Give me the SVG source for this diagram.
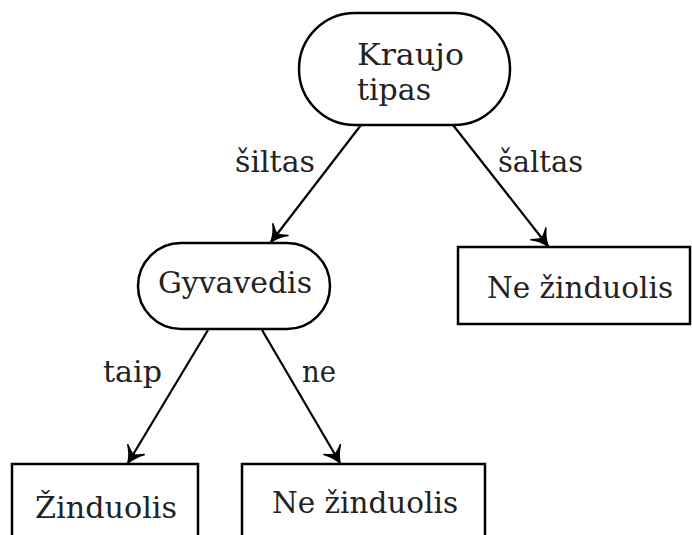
<svg xmlns="http://www.w3.org/2000/svg" width="692" height="535" viewBox="0 0 692 535">
<style>
  .node { fill: #ffffff; stroke: #000000; stroke-width: 2.5; }
  .t { font-family: "DejaVu Serif", "Liberation Serif", serif; font-size: 30px; fill: #222222; }
  .edge { stroke: #000000; stroke-width: 2.2; fill: none; marker-end: url(#arr); }
</style>
<defs>
  <marker id="arr" markerUnits="userSpaceOnUse" viewBox="-18 -11 20 22" refX="0" refY="0" markerWidth="20" markerHeight="22" orient="auto">
    <path d="M0,0 Q-9,-3 -15.5,-9.5 Q-11,-3.5 -10,0 Q-11,3.5 -15.5,9.5 Q-9,3 0,0 Z" fill="#000000" stroke="#000000" stroke-width="1.6" stroke-linejoin="round"/>
  </marker>
</defs>
<rect width="692" height="535" fill="#ffffff"/>
<g id="edges">
  <line class="edge" x1="361" y1="125" x2="271" y2="242"/>
  <line class="edge" x1="453" y1="125" x2="548" y2="246"/>
  <line class="edge" x1="208" y1="330" x2="128" y2="463"/>
  <line class="edge" x1="262" y1="330" x2="340" y2="463"/>
  <text class="t" x="235" y="172" textLength="80" lengthAdjust="spacingAndGlyphs">šiltas</text>
  <text class="t" x="498" y="172" textLength="85" lengthAdjust="spacingAndGlyphs">šaltas</text>
  <text class="t" x="103" y="382" textLength="59" lengthAdjust="spacingAndGlyphs">taip</text>
  <text class="t" x="302" y="382" textLength="34" lengthAdjust="spacingAndGlyphs">ne</text>
</g>
<g id="n_kraujo">
  <rect class="node" x="299" y="13" width="211" height="112" rx="56" ry="56"/>
  <text class="t" x="357" y="65" textLength="107" lengthAdjust="spacingAndGlyphs">Kraujo</text>
  <text class="t" x="357" y="100" textLength="74" lengthAdjust="spacingAndGlyphs">tipas</text>
</g>
<g id="n_gyvavedis">
  <rect class="node" x="138" y="243" width="192" height="86" rx="43" ry="43"/>
  <text class="t" x="158" y="293" textLength="154" lengthAdjust="spacingAndGlyphs">Gyvavedis</text>
</g>
<g id="n_ne1">
  <rect class="node" x="458" y="247" width="232" height="77"/>
  <text class="t" x="487" y="298" textLength="186" lengthAdjust="spacingAndGlyphs">Ne žinduolis</text>
</g>
<g id="n_zinduolis">
  <rect class="node" x="12" y="464" width="186" height="80"/>
  <text class="t" x="35" y="518" textLength="142" lengthAdjust="spacingAndGlyphs">Žinduolis</text>
</g>
<g id="n_ne2">
  <rect class="node" x="242" y="464" width="243" height="80"/>
  <text class="t" x="272" y="513" textLength="186" lengthAdjust="spacingAndGlyphs">Ne žinduolis</text>
</g>
</svg>
